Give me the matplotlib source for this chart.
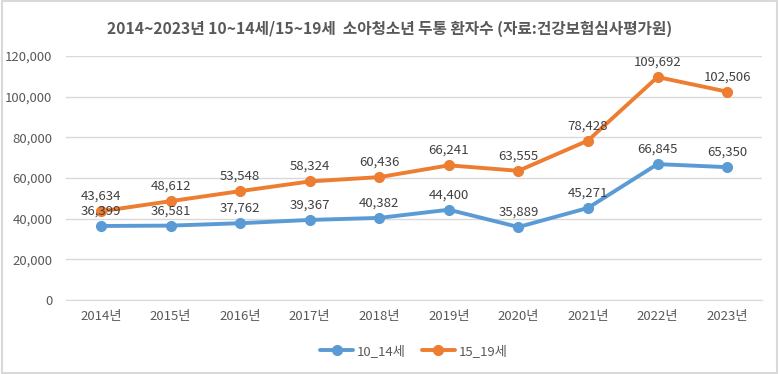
import matplotlib.pyplot as plt
from matplotlib.ticker import FuncFormatter

plt.rcParams['font.family'] = ['Noto Sans CJK KR', 'DejaVu Sans']

years = ['2014년', '2015년', '2016년', '2017년', '2018년', '2019년', '2020년', '2021년', '2022년', '2023년']
age_10_14 = [36399, 36581, 37762, 39367, 40382, 44400, 35889, 45271, 66845, 65350]
age_15_19 = [43634, 48612, 53548, 58324, 60436, 66241, 63555, 78428, 109692, 102506]

blue = '#5B9BD5'
orange = '#ED7D31'
grey = '#595959'

fig = plt.figure(figsize=(7.79, 3.74), dpi=100)
ax = fig.add_axes([0.085, 0.198, 0.893, 0.652])

x = range(len(years))
ax.plot(x, age_10_14, color=blue, lw=2.8, marker='o', ms=7, label='10_14세', solid_capstyle='round')
ax.plot(x, age_15_19, color=orange, lw=2.8, marker='o', ms=7, label='15_19세', solid_capstyle='round')

for xi, v in zip(x, age_10_14):
    ax.annotate(f'{v:,}', (xi, v), xytext=(0, 6), textcoords='offset points',
                ha='center', va='bottom', fontsize=9.5, color='#404040')
for xi, v in zip(x, age_15_19):
    ax.annotate(f'{v:,}', (xi, v), xytext=(0, 6), textcoords='offset points',
                ha='center', va='bottom', fontsize=9.5, color='#404040')

ax.set_xlim(-0.5, len(years) - 0.5)
ax.set_ylim(0, 120000)
ax.set_yticks(range(0, 120001, 20000))
ax.yaxis.set_major_formatter(FuncFormatter(lambda v, p: f'{int(v):,}'))
ax.set_xticks(list(x))
ax.set_xticklabels(years)
ax.tick_params(axis='both', length=0, labelsize=9.5, labelcolor=grey)
ax.tick_params(axis='y', pad=10)
ax.tick_params(axis='x', pad=7)
ax.grid(axis='y', color='#D9D9D9', lw=1)
ax.set_axisbelow(True)
for s in ax.spines.values():
    s.set_visible(False)
ax.spines['bottom'].set_visible(True)
ax.spines['bottom'].set_color('#D9D9D9')

fig.text(0.5, 0.922, '2014~2023년 10~14세/15~19세  소아청소년 두통 환자수 (자료:건강보험심사평가원)',
         ha='center', va='center', fontsize=11.3, fontweight='bold', color=grey)

ax.legend(loc='center', bbox_to_anchor=(0.5, -0.21), ncol=2, frameon=False,
          fontsize=9.5, labelcolor=grey, handlelength=2.5, columnspacing=1.2, handletextpad=0.3)

fig.patches.append(plt.Rectangle((0.002, 0.003), 0.996, 0.994, transform=fig.transFigure,
                                 fill=False, edgecolor='#D9D9D9', lw=1.5))

fig.savefig('out.png', dpi=100)
